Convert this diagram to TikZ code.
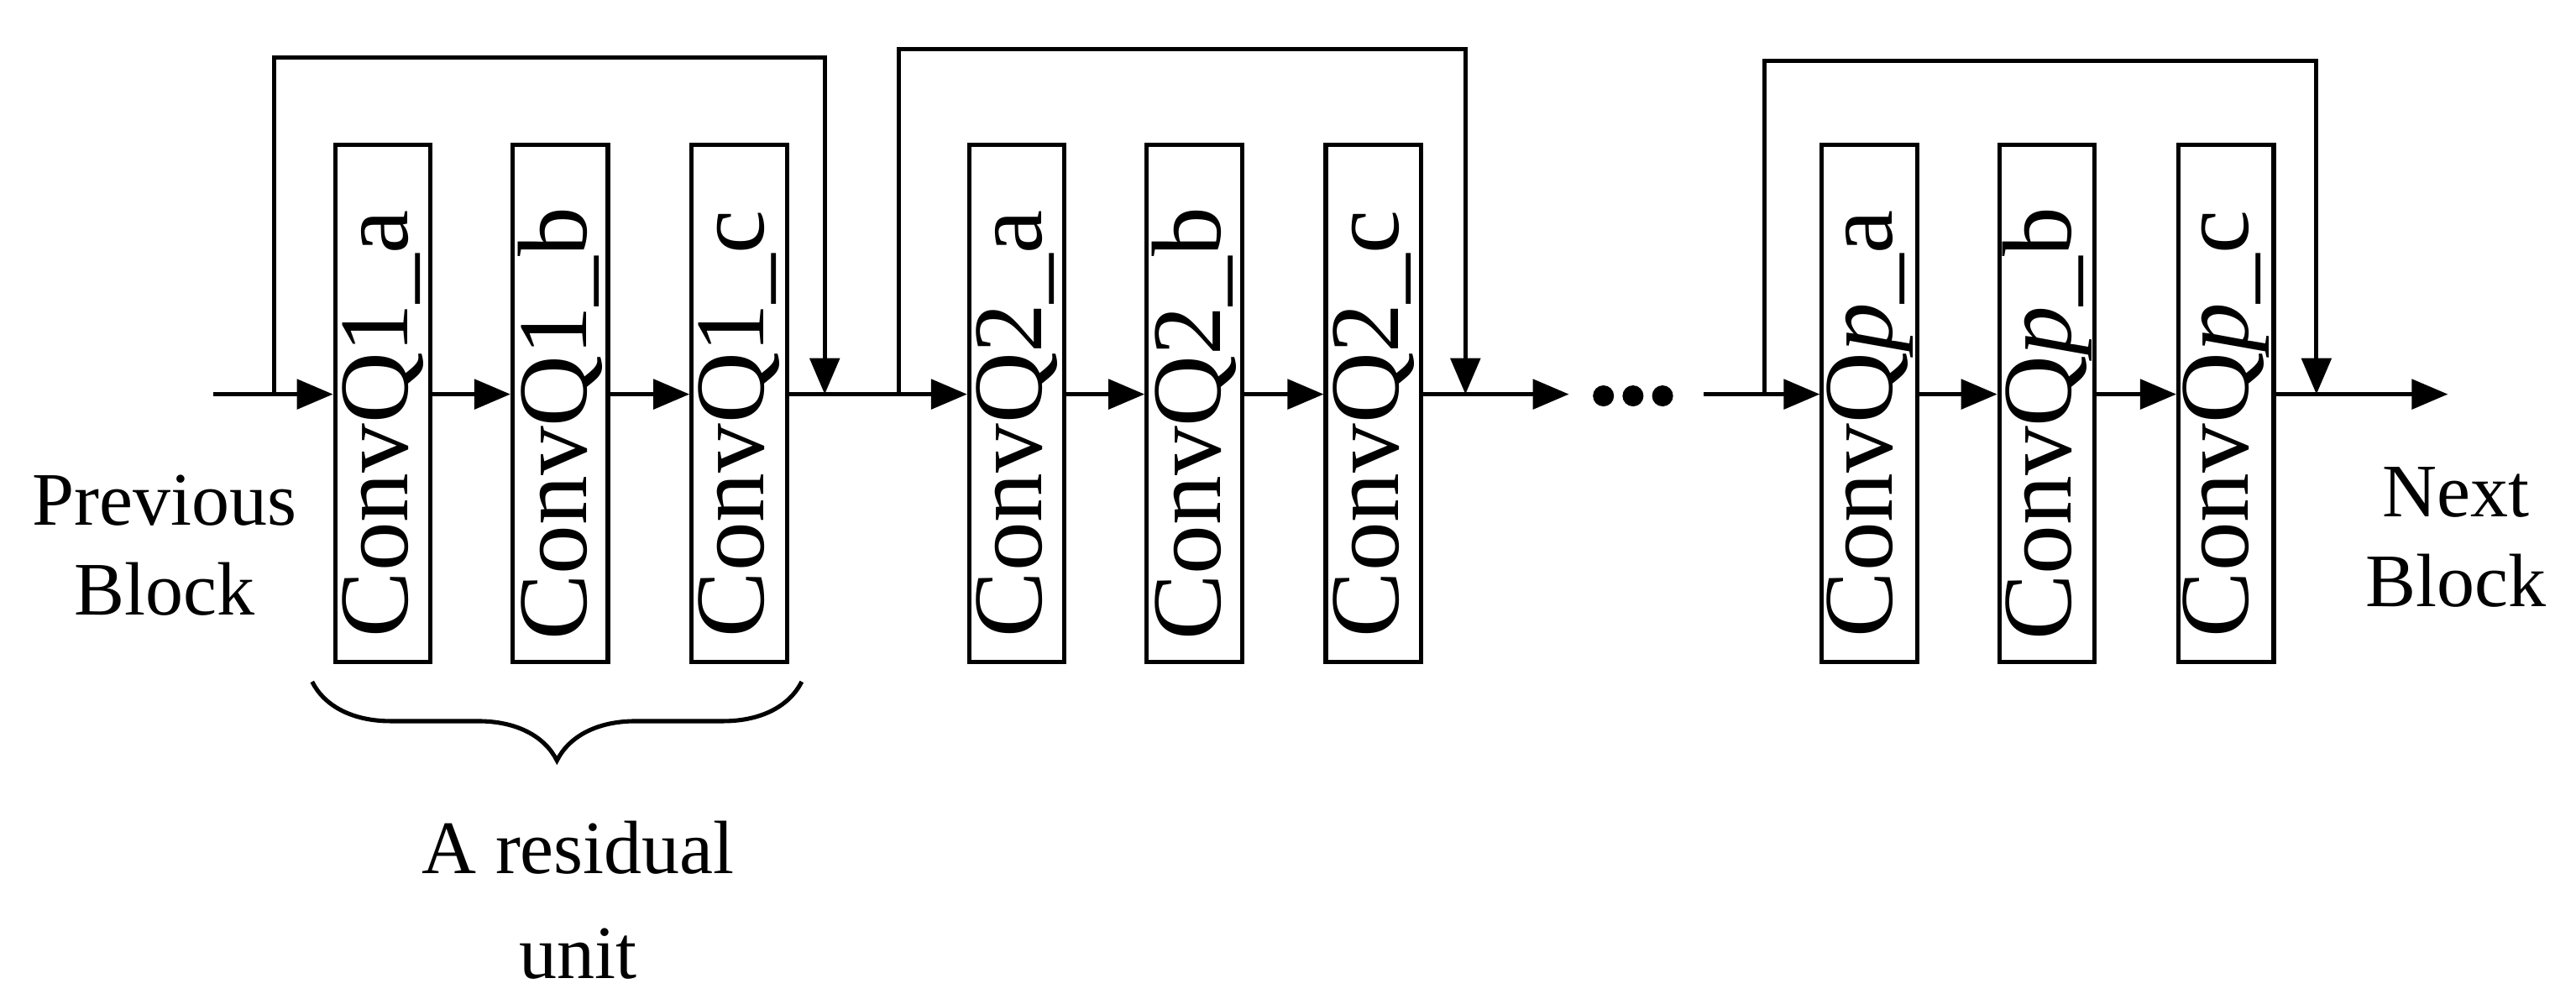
\documentclass[tikz,border=0pt]{standalone}
\usepackage{fontspec}
\setmainfont{Liberation Serif}
\usetikzlibrary{arrows.meta,decorations.pathreplacing}
\begin{document}
\begin{tikzpicture}[x=0.5pt,y=-0.5pt,line width=1.3pt,
  cbox/.style={draw,minimum width=29pt,minimum height=157.5pt,inner sep=0pt},
  lab/.style={rotate=90,font=\fontsize{30}{30}\selectfont},
  arr/.style={-{Triangle[length=11pt,width=9pt]}},
  txt/.style={font=\fontsize{23}{27.5}\selectfont,align=center}]
\useasboundingbox (0,0) rectangle (1568,605);
\foreach \n/\x/\t in {a1/233/1\_a,b1/341/1\_b,c1/450/1\_c,a2/619/2\_a,b2/727/2\_b,c2/836/2\_c,a3/1138/\textit{p}\_a,b3/1246/\textit{p}\_b,c3/1355/\textit{p}\_c}{
  \node[cbox] (\n) at (\x,245.5) {};
  \node[lab] at (\x,258) {ConvQ\t};
}
\coordinate (in) at (130,240);
\coordinate (s1) at (167,240);
\coordinate (j1) at (502,240);
\coordinate (s2) at (547,240);
\coordinate (j2) at (892,240);
\coordinate (d1) at (955,240);
\coordinate (d2) at (1037,240);
\coordinate (s3) at (1074,240);
\coordinate (j3) at (1410,240);
\coordinate (out) at (1490,240);
\draw[arr] (in) -- (a1.west|-in);
\draw[arr] (a1.east|-in) -- (b1.west|-in);
\draw[arr] (b1.east|-in) -- (c1.west|-in);
\draw[arr] (c1.east|-in) -- (a2.west|-in);
\draw[arr] (a2.east|-in) -- (b2.west|-in);
\draw[arr] (b2.east|-in) -- (c2.west|-in);
\draw[arr] (c2.east|-in) -- (d1);
\draw[arr] (d2) -- (a3.west|-in);
\draw[arr] (a3.east|-in) -- (b3.west|-in);
\draw[arr] (b3.east|-in) -- (c3.west|-in);
\draw[arr] (c3.east|-in) -- (out);
\draw[arr] (s1) -- (167,35) -- (502,35) -- (j1);
\draw[arr] (s2) -- (547,30) -- (892,30) -- (j2);
\draw[arr] (s3) -- (1074,37) -- (1410,37) -- (j3);
\foreach \x in {976,994,1012} \fill (\x,241) circle (3.2pt);
\node[txt] (prev) at (100,332) {Previous\\Block};
\node[txt] (next) at (1495,327) {Next\\Block};
\draw[decorate,decoration={brace,mirror,amplitude=24pt}] (190,415) -- (488,415);
\node[txt,font=\fontsize{23}{32}\selectfont] (ru) at (352,548) {A residual\\unit};
\end{tikzpicture}
\end{document}
